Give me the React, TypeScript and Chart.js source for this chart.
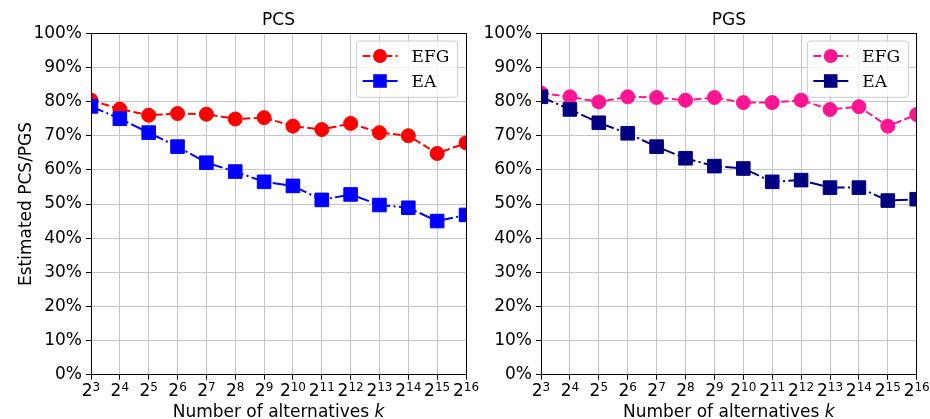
import React, { useEffect, useRef } from "react";
import { Chart, registerables } from "chart.js";

Chart.register(...registerables);

// ---- data ----
const exponents = [3, 4, 5, 6, 7, 8, 9, 10, 11, 12, 13, 14, 15, 16];
const pcsEFG = [80.4, 77.8, 76.0, 76.5, 76.3, 74.9, 75.3, 72.8, 71.8, 73.6, 70.9, 70.0, 64.8, 67.9];
const pcsEA = [78.6, 75.0, 70.9, 66.8, 62.1, 59.5, 56.5, 55.3, 51.2, 52.8, 49.7, 48.9, 45.0, 46.8];
const pgsEFG = [82.5, 81.4, 79.9, 81.4, 81.2, 80.4, 81.2, 79.7, 79.7, 80.4, 77.7, 78.5, 72.8, 76.2];
const pgsEA = [81.4, 77.7, 73.8, 70.7, 66.8, 63.4, 61.1, 60.4, 56.5, 57.0, 54.8, 54.8, 51.0, 51.4];
const seriesNames = ["EFG", "EA"];
const panelTitles = ["PCS", "PGS"];
const yAxisTitle = "Estimated PCS/PGS";
const xAxisTitle = "Number of alternatives ";
const xAxisVar = "k";
const yMin = 0;
const yMax = 100;
const yStep = 10;

const SANS = "'DejaVu Sans', sans-serif";
const SERIF = "'DejaVu Serif', serif";
const H = 419;
const PLOT_TOP = 33.3;
const PLOT_BOTTOM = 374.7;

type PanelCfg = {
  title: string;
  efg: number[];
  ea: number[];
  efgColor: string;
  eaColor: string;
  left: number;
  width: number;
  yAxisWidth: number;
  padRight: number;
  showYTitle: boolean;
};

function align(p: number) {
  return Math.round(p - 0.5) + 0.5;
}

function makeDecor(cfg: PanelCfg) {
  return {
    id: "decor",
    afterDraw(chart: any) {
      const ctx = chart.ctx as CanvasRenderingContext2D;
      const a = chart.chartArea;
      const xs = chart.scales.x;
      ctx.save();
      // spines
      ctx.strokeStyle = "#000";
      ctx.lineWidth = 1;
      ctx.setLineDash([]);
      const l = align(a.left), r = align(a.right), t = align(a.top), b = align(a.bottom);
      ctx.strokeRect(l, t, r - l, b - t);

      // x tick labels 2^n
      ctx.fillStyle = "#000";
      ctx.textBaseline = "alphabetic";
      ctx.textAlign = "left";
      for (const tk of xs.ticks) {
        const v = tk.value;
        const px = xs.getPixelForValue(v);
        ctx.font = `17px ${SANS}`;
        const wb = ctx.measureText("2").width;
        ctx.font = `12px ${SANS}`;
        const sup = String(v);
        const ws = ctx.measureText(sup).width;
        const x0 = px - (wb + ws) / 2;
        ctx.font = `17px ${SANS}`;
        ctx.fillText("2", x0, 396);
        ctx.font = `12px ${SANS}`;
        ctx.fillText(sup, x0 + wb, 391);
      }

      // x axis title
      ctx.font = `17px ${SANS}`;
      const w1 = ctx.measureText(xAxisTitle).width;
      ctx.font = `italic 17px ${SANS}`;
      const w2 = ctx.measureText(xAxisVar).width;
      const cx = (a.left + a.right) / 2;
      const sx = cx - (w1 + w2) / 2;
      ctx.font = `17px ${SANS}`;
      ctx.fillText(xAxisTitle, sx, 416.6);
      ctx.font = `italic 17px ${SANS}`;
      ctx.fillText(xAxisVar, sx + w1, 416.6);

      // title
      ctx.font = `17px ${SANS}`;
      ctx.textAlign = "center";
      ctx.fillText(cfg.title, cx, 25);

      // y title
      if (cfg.showYTitle) {
        ctx.save();
        ctx.translate(31, (a.top + a.bottom) / 2);
        ctx.rotate(-Math.PI / 2);
        ctx.textAlign = "center";
        ctx.fillText(yAxisTitle, 0, 0);
        ctx.restore();
      }

      // legend
      const bw = 101, bh = 56.3;
      const bx = a.right - 8.4 - bw;
      const by = 41;
      ctx.beginPath();
      const rr = 3;
      ctx.moveTo(bx + rr, by);
      ctx.arcTo(bx + bw, by, bx + bw, by + bh, rr);
      ctx.arcTo(bx + bw, by + bh, bx, by + bh, rr);
      ctx.arcTo(bx, by + bh, bx, by, rr);
      ctx.arcTo(bx, by, bx + bw, by, rr);
      ctx.closePath();
      ctx.fillStyle = "rgba(255,255,255,0.8)";
      ctx.fill();
      ctx.strokeStyle = "#cccccc";
      ctx.lineWidth = 1;
      ctx.stroke();

      const dsList = chart.data.datasets;
      dsList.forEach((ds: any, i: number) => {
        const cy = 56 + i * 25;
        ctx.strokeStyle = ds.borderColor;
        ctx.lineWidth = ds.borderWidth;
        ctx.setLineDash(ds.borderDash);
        ctx.beginPath();
        ctx.moveTo(bx + 6, cy);
        ctx.lineTo(bx + 41, cy);
        ctx.stroke();
        ctx.setLineDash([]);
        const mx = bx + 23.4;
        ctx.fillStyle = ds.pointBackgroundColor;
        ctx.beginPath();
        if (ds.pointStyle === "circle") {
          ctx.arc(mx, cy, ds.pointRadius, 0, Math.PI * 2);
        } else {
          const hs = ds.pointRadius * Math.SQRT1_2;
          ctx.rect(mx - hs, cy - hs, hs * 2, hs * 2);
        }
        ctx.fill();
        ctx.fillStyle = "#000";
        ctx.font = `17px ${SERIF}`;
        ctx.textAlign = "left";
        ctx.fillText(ds.label, bx + 55, cy + 5.8);
      });
      ctx.restore();
    },
  };
}

function Panel({ cfg }: { cfg: PanelCfg }) {
  const ref = useRef<HTMLCanvasElement>(null);
  useEffect(() => {
    const gridCommon = {
      color: "#c4c4c4",
      lineWidth: 1,
      tickColor: "#000",
      tickLength: 5,
      tickWidth: 1,
      drawTicks: true,
    };
    const chart = new Chart(ref.current!, {
      type: "line",
      data: {
        datasets: [
          {
            label: seriesNames[0],
            data: exponents.map((e, i) => ({ x: e, y: cfg.efg[i] })),
            borderColor: cfg.efgColor,
            backgroundColor: cfg.efgColor,
            borderWidth: 2,
            borderDash: [7.7, 3.3],
            pointStyle: "circle",
            pointRadius: 7,
            pointBorderWidth: 1,
            pointBackgroundColor: cfg.efgColor,
            pointBorderColor: cfg.efgColor,
            tension: 0,
            clip: 0,
            order: 1,
          } as any,
          {
            label: seriesNames[1],
            data: exponents.map((e, i) => ({ x: e, y: cfg.ea[i] })),
            borderColor: cfg.eaColor,
            backgroundColor: cfg.eaColor,
            borderWidth: 2,
            borderDash: [13.3, 3.3, 2.1, 3.3],
            pointStyle: "rect",
            pointRadius: 9.6,
            pointBorderWidth: 1,
            pointBackgroundColor: cfg.eaColor,
            pointBorderColor: cfg.eaColor,
            tension: 0,
            clip: 0,
            order: 0,
          } as any,
        ],
      },
      options: {
        responsive: false,
        animation: false,
        devicePixelRatio: 1,
        events: [],
        layout: { padding: { left: 0, top: PLOT_TOP, right: cfg.padRight, bottom: 0 } },
        plugins: {
          legend: { display: false },
          tooltip: { enabled: false },
          title: { display: false },
        },
        scales: {
          x: {
            type: "linear",
            min: exponents[0],
            max: exponents[exponents.length - 1],
            ticks: { stepSize: 1, display: false },
            grid: gridCommon,
            border: { color: "#000", width: 1 },
            afterFit: (s: any) => {
              s.height = H - PLOT_BOTTOM;
            },
          },
          y: {
            min: yMin,
            max: yMax,
            ticks: {
              stepSize: yStep,
              callback: (v: any) => `${v}%`,
              color: "#000",
              font: { family: SANS, size: 17 },
              padding: 4,
            },
            grid: gridCommon,
            border: { color: "#000", width: 1 },
            afterFit: (s: any) => {
              s.width = cfg.yAxisWidth;
            },
          },
        },
      } as any,
      plugins: [makeDecor(cfg)],
    });
    return () => chart.destroy();
  }, []);
  return (
    <canvas
      ref={ref}
      width={cfg.width}
      height={H}
      style={{ position: "absolute", left: cfg.left, top: 0, width: cfg.width, height: H }}
    />
  );
}

const panels: PanelCfg[] = [
  {
    title: panelTitles[0],
    efg: pcsEFG,
    ea: pcsEA,
    efgColor: "#ff0000",
    eaColor: "#0000ff",
    left: 0,
    width: 490,
    yAxisWidth: 91,
    padRight: 24,
    showYTitle: true,
  },
  {
    title: panelTitles[1],
    efg: pgsEFG,
    ea: pgsEA,
    efgColor: "#ff1493",
    eaColor: "#000080",
    left: 470,
    width: 460,
    yAxisWidth: 71,
    padRight: 13.3,
    showYTitle: false,
  },
];

export default function App() {
  return (
    <div style={{ position: "absolute", left: 0, top: 0, width: 930, height: H, background: "#fff", overflow: "hidden" }}>
      {panels.map((p, i) => (
        <Panel key={i} cfg={p} />
      ))}
    </div>
  );
}
